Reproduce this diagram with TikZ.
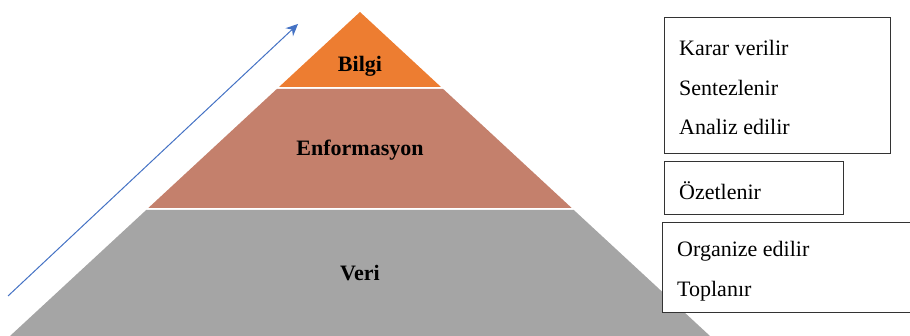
\documentclass[tikz,border=0pt]{standalone}
\usepackage{fontspec}
\setmainfont{Liberation Serif}
\usetikzlibrary{arrows.meta}
\definecolor{topband}{HTML}{ED7D31}
\definecolor{midband}{HTML}{C4806C}
\definecolor{lowband}{HTML}{A5A5A5}
\definecolor{arrowblue}{HTML}{4472C4}
\tikzset{
  band/.style={draw=none},
  bandlabel/.style={font=\fontsize{22}{26}\selectfont\bfseries, text=black, inner sep=0pt},
  listbox/.style={draw=black!80, line width=0.9pt, fill=white, rectangle, inner sep=0pt, anchor=north west},
  listitem/.style={font=\fontsize{22}{26}\selectfont, text=black, inner sep=0pt, anchor=west},
  rise/.style={draw=arrowblue, line width=1pt, -{Stealth[length=12pt,width=11pt]}}
}
\begin{document}
\begin{tikzpicture}[x=1pt,y=-1pt]
  \useasboundingbox (0,0) rectangle (910,336);
  % pyramid bands: apex (360,12), half width grows 1.08 per unit of depth
  \fill[band, topband] (360,12) -- (441,87) -- (279,87) -- cycle;
  \fill[band, midband] (276.8,89) -- (443.2,89) -- (571.7,208) -- (148.3,208) -- cycle;
  \fill[band, lowband] (146.2,210) -- (573.8,210) -- (710,336) -- (10,336) -- cycle;
  \node[bandlabel] (bilgi) at (360,66) {Bilgi};
  \node[bandlabel] (enf) at (360,150) {Enformasyon};
  \node[bandlabel] (veri) at (360,273) {Veri};
  % rising arrow along the left flank
  \coordinate (arrowtail) at (8,296);
  \coordinate (arrowtip) at (298,24);
  \draw[rise] (arrowtail) -- (arrowtip);
  % step boxes on the right
  \node[listbox, minimum width=226pt, minimum height=136pt] (box1) at (664,17) {};
  \node[listitem] (karar) at (679,48) {Karar verilir};
  \node[listitem] (sentez) at (679,88) {Sentezlenir};
  \node[listitem] (analiz) at (679,127) {Analiz edilir};
  \node[listbox, minimum width=179pt, minimum height=53pt] (box2) at (664,161) {};
  \node[listitem] (ozet) at (679,191) {Özetlenir};
  \node[listbox, minimum width=290pt, minimum height=90pt] (box3) at (662,222) {};
  \node[listitem] (organize) at (677,251) {Organize edilir};
  \node[listitem] (topla) at (677,291) {Toplanır};
\end{tikzpicture}
\end{document}
